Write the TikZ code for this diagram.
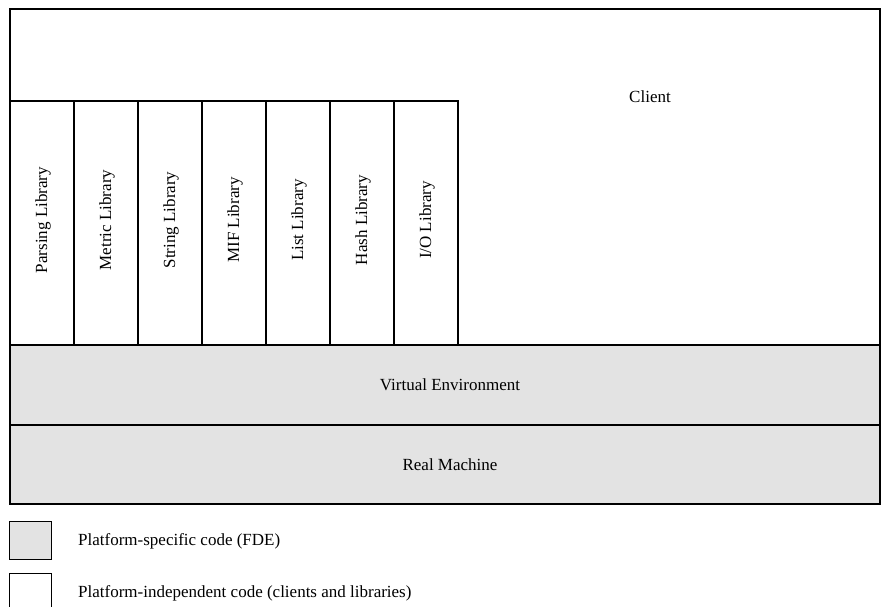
\documentclass[tikz,border=0pt]{standalone}
\usepackage{fontspec}
\setmainfont{Liberation Serif}
\begin{document}
\begin{tikzpicture}[x=1pt,y=-1pt,
  thick box/.style={draw=black,line width=2pt},
  gray fill/.style={fill=boxgray},
  lbl/.style={font=\fontsize{17}{20}\selectfont,inner sep=0pt},
  liblbl/.style={font=\fontsize{17}{20}\selectfont,inner sep=0pt,rotate=90},
  legbox/.style={draw=black,line width=1pt}]
\definecolor{boxgray}{HTML}{E3E3E3}
\useasboundingbox (0,0) rectangle (881,607);
\clip (0,0) rectangle (881,607);
% client L-shape
\draw[thick box] (10,9) -- (880,9) -- (880,345) -- (458,345) -- (458,101) -- (10,101) -- cycle;
\node[lbl] (client) at (650,97) {Client};
% libraries
\foreach \i/\t in {0/{Parsing Library},1/{Metric Library},2/{String Library},3/{MIF Library},4/{List Library},5/{Hash Library},6/{I/O Library}}{
  \pgfmathsetmacro{\xa}{10+64*\i}
  \pgfmathsetmacro{\xb}{74+64*\i}
  \draw[thick box] (\xa,101) rectangle (\xb,345);
  \node[liblbl] (lib\i) at ({43+64*\i},220) {\t};
}
% virtual environment and real machine
\draw[thick box,gray fill] (10,345) rectangle (880,425);
\node[lbl] (venv) at (450,385) {Virtual Environment};
\draw[thick box,gray fill] (10,425) rectangle (880,504);
\node[lbl] (real) at (450,465) {Real Machine};
% legend
\draw[legbox,gray fill] (9,521) rectangle (51,559);
\node[lbl,anchor=west] (leg1) at (78,541) {Platform-specific code (FDE)};
\draw[legbox] (9,573) rectangle (51,615);
\node[lbl,anchor=west] (leg2) at (78,593) {Platform-independent code (clients and libraries)};
\end{tikzpicture}
\end{document}
